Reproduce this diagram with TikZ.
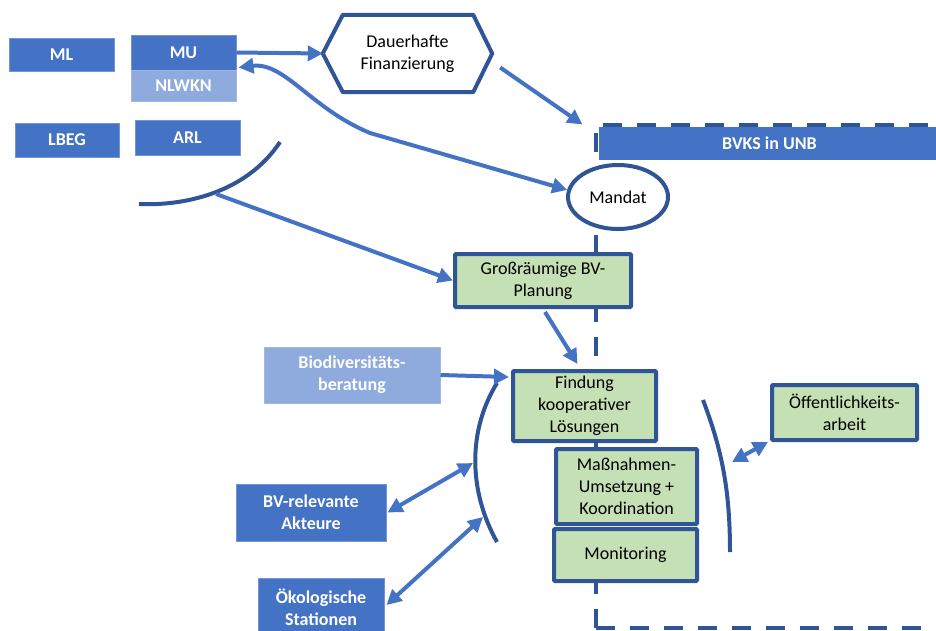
\documentclass[tikz,border=0pt]{standalone}
\usepackage{fontspec}
\setmainfont{Carlito}
\usetikzlibrary{arrows.meta,calc,shapes.geometric}
\definecolor{cblue}{HTML}{4472C4}
\definecolor{clight}{HTML}{8FAADC}
\definecolor{cdark}{HTML}{2F5597}
\definecolor{cgreen}{HTML}{C5E0B4}
\tikzset{
  bluebox/.style={fill=cblue, draw=cblue!75!white, line width=1pt, text=white,
    font=\fontsize{18}{22}\selectfont\bfseries, align=center, inner sep=0pt},
  lightbox/.style={bluebox, fill=clight, draw=clight!85!white},
  greenbox/.style={fill=cgreen, draw=cdark, line width=4pt, align=center,
    inner sep=0pt, rounded corners=1pt},
  tip/.tip={Triangle[length=15pt,width=15pt]},
  conn/.style={draw=cblue, line width=4pt, -tip},
  conn2/.style={draw=cblue, line width=4pt, tip-tip},
  bracket/.style={draw=cdark, line width=4pt},
  frame/.style={draw=cdark, line width=4pt, dash pattern=on 19pt off 15pt}
}
\begin{document}
\begin{tikzpicture}[x=1pt,y=-1pt,font=\fontsize{18}{22}\selectfont]
\useasboundingbox (0,0) rectangle (936,630);

% dashed frame of the BVKS
\draw[frame] (596,628) -- (596,125) -- (945,125);
\draw[frame] (596,628) -- (945,628);
\node[bluebox, draw=none, minimum width=341pt, minimum height=33pt] (bvks) at (769.5,143.5) {BVKS in UNB};

% ministries and agencies
\node[bluebox, minimum width=105pt, minimum height=33pt] (ml) at (61.5,54.5) {ML};
\node[bluebox, minimum width=105pt, minimum height=35pt] (mu) at (183.5,52.5) {MU};
\node[lightbox, minimum width=105pt, minimum height=31pt] (nlwkn) at (183.5,85.5) {NLWKN};
\node[bluebox, minimum width=104pt, minimum height=34pt] (lbeg) at (67,140) {LBEG};
\node[bluebox, minimum width=105pt, minimum height=35pt] (arl) at (187.5,137.5) {ARL};

% financing hexagon
\node[minimum width=169pt, minimum height=77pt, align=center, inner sep=0pt] (fin) at (407.5,53.5) {Dauerhafte\\Finanzierung};
\draw[cdark, line width=4pt, line join=round]
  (fin.west) -- ($(fin.north west)+(20,0)$) -- ($(fin.north east)+(-19,0)$)
  -- (fin.east) -- ($(fin.south east)+(-19,0)$) -- ($(fin.south west)+(20,0)$) -- cycle;

% mandate
\node[ellipse, draw=cdark, fill=white, line width=4pt, minimum width=100pt, minimum height=64pt, inner sep=0pt] (mandat) at (618,197) {Mandat};

% process boxes
\node[greenbox, minimum width=176pt, minimum height=53pt] (gbv) at (543,280.5) {Großräumige BV-\\Planung};
\node[greenbox, minimum width=143pt, minimum height=70pt] (find) at (584.5,406) {Findung\\kooperativer\\Lösungen};
\node[greenbox, minimum width=141pt, minimum height=75pt] (mass) at (626.5,486.5) {Maßnahmen-\\Umsetzung +\\Koordination};
\node[greenbox, minimum width=143pt, minimum height=52pt] (mon) at (625.5,555) {Monitoring};
\node[greenbox, minimum width=145pt, minimum height=55pt] (oeff) at (844.5,412.5) {Öffentlichkeits-\\arbeit};

% partners
\node[lightbox, minimum width=176pt, minimum height=56pt] (biodiv) at (352,375) {Biodiversitäts-\\beratung};
\node[bluebox, minimum width=150pt, minimum height=57pt] (bvr) at (311,512.5) {BV-relevante\\Akteure};
\node[bluebox, minimum width=126pt, minimum height=58pt] (oek) at (321,607) {Ökologische\\Stationen};

% brackets
\coordinate (junc) at (216,194);
\draw[bracket] (139,204) .. controls (180,206) and (245,195) .. (280,142);
\draw[bracket] (497,383) .. controls (468,430) and (468,490) .. (497,542);
\draw[bracket] (703,400) .. controls (722,450) and (730,490) .. (730,552);
\coordinate (lbA) at (473,463);
\coordinate (lbB) at (483,517);
\coordinate (rbA) at (732,462);

% connectors
\draw[conn] (mu.east) -- (fin.west);
\draw[conn] ($(fin.east)+(8,14)$) -- ($(bvks.north west)+(-16,-2)$);
\draw[conn2] (mandat.172) -- (370,133) .. controls (310,108) and (285,62) .. ($(mu.south east)+(2,-3)$);
\draw[conn] (junc) -- (gbv.west);
\draw[conn] ($(gbv.south)+(2,3)$) -- ($(find.north)+(-7,-5)$);
\draw[conn] (biodiv.east) -- ($(find.north west)+(-2,8)$);
\draw[conn2] ($(bvr.east)+(1,0)$) -- (lbA);
\draw[conn2] ($(oek.east)+(2,-2)$) -- (lbB);
\draw[conn2] ($(oeff.south west)+(-2,0)$) -- (rbA);
\end{tikzpicture}
\end{document}
